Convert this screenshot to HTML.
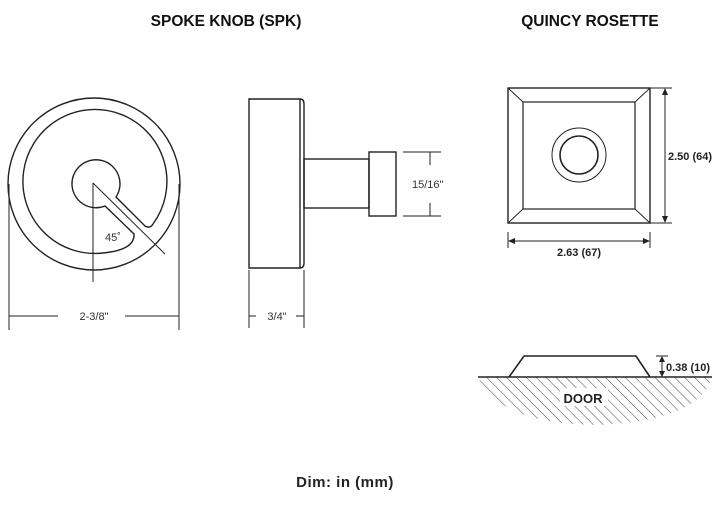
<!DOCTYPE html>
<html><head><meta charset="utf-8"><style>
body{margin:0;background:#fff;width:724px;height:511px;overflow:hidden}
svg{display:block}
text{font-family:"Liberation Sans",sans-serif}
</style></head><body>
<svg width="724" height="511" viewBox="0 0 724 511" xmlns="http://www.w3.org/2000/svg">
<defs>
<pattern id="h" width="7" height="7" patternUnits="userSpaceOnUse" patternTransform="rotate(-45)">
<line x1="0" y1="0" x2="0" y2="7" stroke="#444" stroke-width="1"/>
</pattern>
<clipPath id="door"><path d="M478 377 L712 377 Q700 420 600 425 Q500 425 478 377Z"/></clipPath>
</defs>
<text x="226" y="26" font-size="15.5" font-weight="bold" text-anchor="middle" fill="#111">SPOKE KNOB (SPK)</text>
<text x="590" y="26" font-size="15.5" font-weight="bold" text-anchor="middle" fill="#111">QUINCY ROSETTE</text>
<text x="345" y="487" font-size="15" font-weight="bold" text-anchor="middle" fill="#222" letter-spacing="0.5">Dim: in (mm)</text>

<g fill="none" stroke="#222" stroke-width="1.4">
<circle cx="94" cy="184" r="86"/>
<path d="M153 224 A72 72 0 1 0 103 253 Q135 250 134 234 L105 206 A24 24 0 1 1 116 197 L145 226 Q150 229 153 224Z"/>
<line x1="93" y1="183" x2="93" y2="282" stroke-width="1"/>
<line x1="93" y1="183" x2="165" y2="254" stroke-width="1"/>
<line x1="9" y1="184" x2="9" y2="330" stroke-width="1"/>
<line x1="179" y1="184" x2="179" y2="330" stroke-width="1"/>
<line x1="9" y1="316" x2="58" y2="316" stroke-width="1"/>
<line x1="125" y1="316" x2="179" y2="316" stroke-width="1"/>
<path d="M249 99 L300 99 Q304 99 304 104 L304 263 Q304 268 300 268 L249 268Z"/>
<line x1="300" y1="99" x2="300" y2="268"/>
<rect x="304" y="159" width="65" height="49"/>
<rect x="369" y="152" width="27" height="64"/>
<g stroke-width="1">
<line x1="403" y1="152" x2="441" y2="152"/><line x1="403" y1="216" x2="441" y2="216"/>
<line x1="430" y1="152" x2="430" y2="165"/><line x1="430" y1="203" x2="430" y2="216"/>
<line x1="249" y1="270" x2="249" y2="328"/><line x1="304" y1="270" x2="304" y2="328"/>
<line x1="249" y1="316" x2="256" y2="316"/><line x1="296" y1="316" x2="304" y2="316"/>
</g>
<rect x="508" y="88" width="142" height="135"/>
<rect x="523" y="102" width="112" height="107" stroke-width="1.2"/>
<g stroke-width="1"><line x1="508" y1="88" x2="523" y2="102"/><line x1="650" y1="88" x2="635" y2="102"/>
<line x1="508" y1="223" x2="523" y2="209"/><line x1="650" y1="223" x2="635" y2="209"/></g>
<circle cx="579" cy="155" r="27" stroke-width="1"/>
<circle cx="579" cy="155" r="19" stroke-width="1.6"/>
<g stroke-width="1">
<line x1="650" y1="88" x2="672" y2="88"/><line x1="650" y1="223" x2="672" y2="223"/>
<line x1="665" y1="90" x2="665" y2="221"/>
<line x1="508" y1="232" x2="508" y2="248"/><line x1="650" y1="232" x2="650" y2="248"/>
<line x1="510" y1="241" x2="648" y2="241"/>
</g>
<rect x="478" y="377" width="234" height="50" fill="url(#h)" stroke="none" clip-path="url(#door)"/>
<line x1="478" y1="377" x2="712" y2="377" stroke-width="1.6"/>
<path d="M509 377 L524 356 L636 356 L650 377" stroke-width="1.6"/>
<g stroke-width="1"><line x1="656" y1="356" x2="668" y2="356"/><line x1="662" y1="358" x2="662" y2="375"/></g>
</g>
<g fill="#222">
<path d="M665 88 l-3 7 h6z"/><path d="M665 223 l-3 -7 h6z"/>
<path d="M508 241 l7 -3 v6z"/><path d="M650 241 l-7 -3 v6z"/>
<path d="M662 356 l-3 6 h6z"/><path d="M662 377 l-3 -6 h6z"/>
</g>
<rect x="560" y="388" width="48" height="18" fill="#fff"/>
<text x="583" y="403" font-size="13" font-weight="bold" text-anchor="middle" fill="#222">DOOR</text>
<g font-size="11" fill="#333">
<text x="113" y="241" text-anchor="middle">45˚</text>
<text x="94" y="320" text-anchor="middle">2-3/8"</text>
<text x="277" y="320" text-anchor="middle">3/4"</text>
<text x="412" y="188">15/16"</text>
</g>
<g font-size="11" font-weight="bold" fill="#222">
<text x="668" y="160">2.50 (64)</text>
<text x="579" y="256" text-anchor="middle">2.63 (67)</text>
<text x="666" y="371">0.38 (10)</text>
</g>
</svg>
</body></html>
